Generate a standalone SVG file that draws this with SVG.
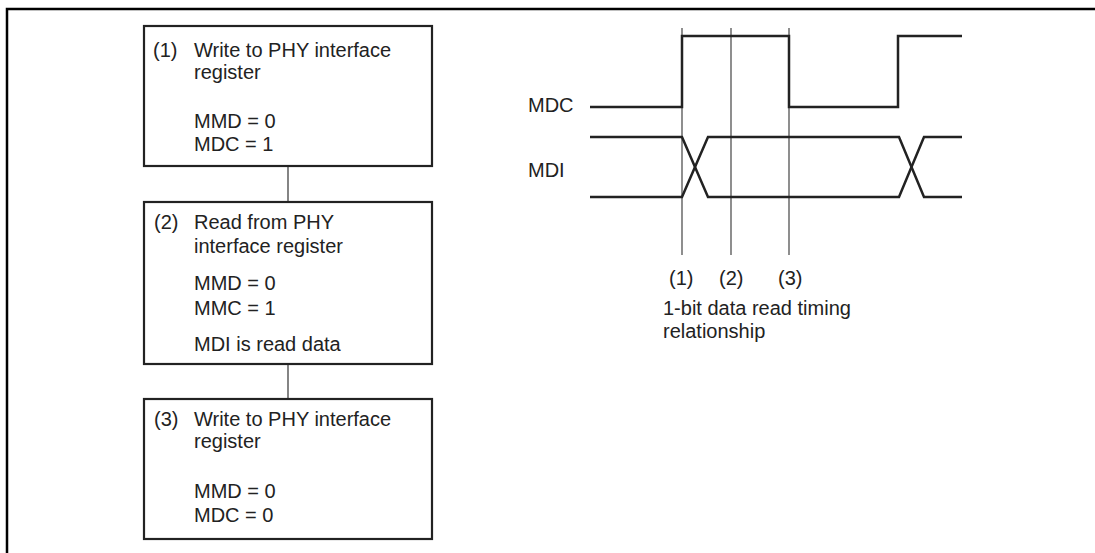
<svg xmlns="http://www.w3.org/2000/svg" width="1095" height="553" viewBox="0 0 1095 553">
<style>
text{font-family:"Liberation Sans",Arial,sans-serif;font-size:20px;fill:#222}
.box{fill:#fff;stroke:#222;stroke-width:2.2}
.conn{stroke:#333;stroke-width:1.2;fill:none}
.sig{stroke:#222;stroke-width:2.5;fill:none}
.mark{stroke:#444;stroke-width:1.2;fill:none}
</style>
<rect width="1095" height="553" fill="#fff"/>
<path d="M7 553V9H1095" fill="none" stroke="#000" stroke-width="2.5"/>
<g id="connectors">
<line class="conn" x1="288" y1="166" x2="288" y2="202"/>
<line class="conn" x1="288" y1="364" x2="288" y2="399"/>
</g>
<g id="node1">
<rect class="box" x="144" y="26" width="288" height="140"/>
<text x="153" y="57">(1)</text>
<text x="194" y="57">Write to PHY interface</text>
<text x="194" y="79">register</text>
<text x="194" y="128">MMD = 0</text>
<text x="194" y="151">MDC = 1</text>
</g>
<g id="node2">
<rect class="box" x="144" y="202" width="288" height="162"/>
<text x="154" y="229">(2)</text>
<text x="194" y="229">Read from PHY</text>
<text x="194" y="253">interface register</text>
<text x="194" y="290">MMD = 0</text>
<text x="194" y="315">MMC = 1</text>
<text x="194" y="351">MDI is read data</text>
</g>
<g id="node3">
<rect class="box" x="144" y="399" width="288" height="140"/>
<text x="154" y="426">(3)</text>
<text x="194" y="426">Write to PHY interface</text>
<text x="194" y="448">register</text>
<text x="194" y="498">MMD = 0</text>
<text x="194" y="522">MDC = 0</text>
</g>
<g id="timing">
<line class="mark" x1="682" y1="28" x2="682" y2="255"/>
<line class="mark" x1="731" y1="28" x2="731" y2="255"/>
<line class="mark" x1="789" y1="28" x2="789" y2="255"/>
<polyline class="sig" points="590,107 682,107 682,36 789,36 789,107 898,107 898,36 962,36"/>
<polyline class="sig" points="590,137 682,137 708,197 899,197 924,137 962,137"/>
<polyline class="sig" points="590,197 682,197 708,137 899,137 924,197 962,197"/>
<text x="528" y="112">MDC</text>
<text x="528" y="177">MDI</text>
<text x="669" y="285">(1)</text>
<text x="719" y="285">(2)</text>
<text x="778" y="285">(3)</text>
<text x="663" y="315">1-bit data read timing</text>
<text x="663" y="338">relationship</text>
</g>
</svg>
